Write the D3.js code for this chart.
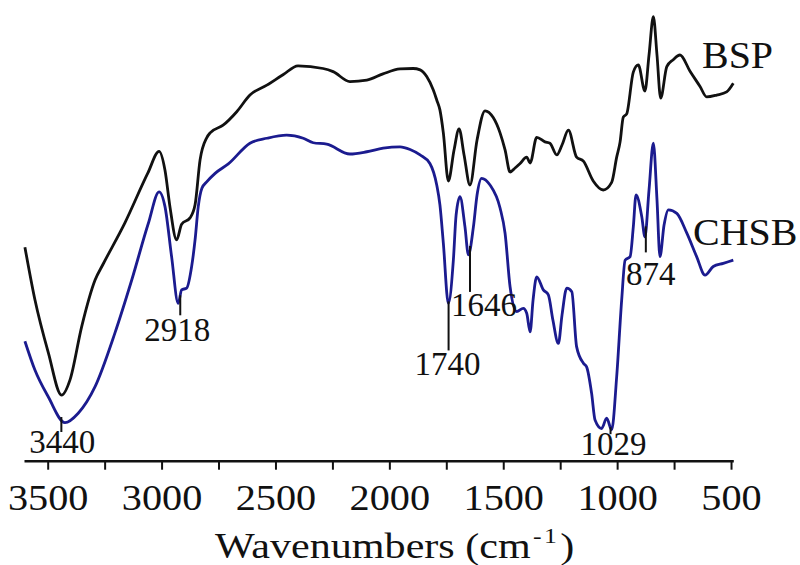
<!DOCTYPE html>
<html>
<head>
<meta charset="utf-8">
<script src="https://cdn.jsdelivr.net/npm/d3@7"></script>
<style>
  body { margin: 0; background: #fff; }
  svg { display: block; }
  text { font-family: 'Liberation Serif', 'Times New Roman', 'DejaVu Serif', serif; }
</style>
</head>
<body>
<svg id="chart" width="800" height="565"></svg>
<script>
// FTIR spectra, values (transmittance in arbitrary units)
const bspWave = [3600, 3556, 3497, 3439, 3402, 3351, 3292, 3257, 3161, 3060, 3011, 2985, 2963, 2934, 2912,
  2875, 2853, 2831, 2802, 2787, 2730, 2670, 2612, 2538, 2467, 2401, 2291, 2247, 2173, 2099, 2028, 1953,
  1896, 1865, 1836, 1807, 1792, 1778, 1763, 1741, 1716, 1694, 1672, 1646, 1615, 1580, 1544, 1514, 1492,
  1470, 1448, 1426, 1397, 1382, 1353, 1317, 1295, 1265, 1242, 1214, 1178, 1148, 1105, 1061, 1024, 1002,
  987, 973, 958, 929, 907, 878, 860, 841, 825, 809, 782, 755, 724, 680, 636, 607, 563, 519, 490];
const bspT = [47.3, 35.6, 23.8, 14.4, 17.8, 29.6, 40.0, 43.5, 52.7, 63.8, 68.6, 64.4, 56.2, 48.9, 52.4,
  53.8, 56.7, 66.7, 71.6, 72.7, 74.4, 77.4, 81.1, 83.3, 85.6, 87.6, 87.0, 86.3, 84.1, 84.4, 85.8, 86.9,
  87.0, 86.7, 85.2, 82.2, 80.0, 77.8, 72.7, 62.0, 68.9, 73.6, 67.8, 61.1, 71.1, 77.6, 76.1, 72.7, 68.9,
  64.0, 64.9, 65.9, 67.3, 66.0, 71.7, 70.7, 70.4, 67.8, 70.0, 73.3, 67.3, 66.4, 62.0, 60.0, 61.7, 67.3,
  70.7, 76.2, 76.9, 86.2, 87.8, 82.0, 90.0, 98.5, 90.0, 80.4, 87.4, 88.9, 90.0, 86.4, 83.0, 80.7, 81.1, 81.8, 83.7];

const chsbWave = [3600, 3556, 3497, 3424, 3366, 3292, 3205, 3131, 3058, 3011, 2985, 2956, 2927, 2912, 2890,
  2868, 2853, 2839, 2823, 2802, 2765, 2707, 2612, 2538, 2451, 2378, 2334, 2275, 2173, 2099, 2027, 1953,
  1909, 1865, 1822, 1792, 1778, 1763, 1741, 1719, 1707, 1690, 1668, 1653, 1631, 1615, 1595, 1558, 1514,
  1492, 1470, 1441, 1412, 1397, 1382, 1369, 1353, 1324, 1302, 1282, 1258, 1242, 1221, 1199, 1178, 1148,
  1134, 1112, 1097, 1068, 1046, 1024, 1002, 980, 965, 943, 929, 917, 892, 878, 860, 841, 825, 812, 794,
  775, 738, 694, 651, 614, 578, 534, 490];
const chsbT = [26.4, 20.0, 14.0, 8.3, 10.4, 16.3, 28.2, 40.0, 52.6, 59.6, 56.3, 45.2, 34.8, 37.8, 38.2,
  43.0, 48.9, 56.3, 60.4, 61.8, 63.7, 65.8, 70.4, 71.5, 72.2, 71.5, 70.5, 70.2, 68.0, 68.5, 69.3, 69.6,
  69.0, 67.8, 65.9, 61.1, 56.7, 48.2, 34.8, 44.4, 54.4, 58.5, 51.8, 45.6, 51.8, 58.9, 62.6, 61.1, 56.0,
  50.4, 38.5, 33.0, 33.7, 32.6, 28.5, 35.6, 40.7, 37.8, 36.7, 31.1, 25.9, 32.2, 38.2, 37.4, 25.2, 21.5,
  20.7, 14.8, 8.9, 7.0, 9.3, 6.7, 18.5, 35.6, 44.4, 45.2, 51.8, 58.9, 54.1, 49.6, 60.0, 70.4, 57.8, 45.2, 52.2,
  55.6, 54.8, 50.4, 45.2, 41.1, 43.0, 43.7, 44.4];

const seriesNames = ['BSP', 'CHSB'];
const majorTicks = [3500, 3000, 2500, 2000, 1500, 1000, 500];
const minorTicks = [3250, 2750, 2250, 1750, 1250, 750];
const peakLabels = [3440, 2918, 1740, 1646, 1029, 874];

// layout for the peak markers: marker length, label shift from the marker
const peakLayout = [
  { len: 15, dx: 1, dy: 21 },
  { len: 20, dx: -3, dy: 26 },
  { len: 49, dx: -1, dy: 25 },
  { len: 46, dx: 14, dy: 24 },
  { len: 7, dx: 3, dy: 21 },
  { len: 26, dx: 5, dy: 33 }
];

const FONT = "'Liberation Serif', 'Times New Roman', 'DejaVu Serif', serif";

const svg = d3.select('#chart');
const x = d3.scaleLinear().domain([3604, 490]).range([24, 733.3]);
const y = d3.scaleLinear().domain([0, 100]).range([460, 10]);
const axisY = 460.7;

const line = d3.line()
  .x(d => x(d[0]))
  .y(d => y(d[1]))
  .curve(d3.curveMonotoneX);

const series = [
  { name: seriesNames[0], pts: d3.zip(bspWave, bspT), color: '#111', label: { x: 702, y: 68 } },
  { name: seriesNames[1], pts: d3.zip(chsbWave, chsbT), color: '#1b1b8f', label: { x: 693, y: 245 } }
];

svg.selectAll('path.spectrum')
  .data(series)
  .enter()
  .append('path')
  .attr('class', 'spectrum')
  .attr('d', d => line(d.pts))
  .attr('fill', 'none')
  .attr('stroke', d => d.color)
  .attr('stroke-width', 2.8)
  .attr('stroke-linejoin', 'round');

svg.selectAll('text.series-name')
  .data(series)
  .enter()
  .append('text')
  .attr('class', 'series-name')
  .attr('transform', d => `translate(${d.label.x},${d.label.y}) scale(1.08,1)`)
  .attr('font-family', FONT)
  .attr('font-size', 37)
  .attr('fill', '#111')
  .text(d => d.name);

// x axis
const xAxis = d3.axisBottom(x)
  .tickValues(majorTicks.concat(minorTicks))
  .tickSize(9)
  .tickSizeOuter(0)
  .tickPadding(15)
  .tickFormat(d => (majorTicks.includes(d) ? d : ''));

const gx = svg.append('g')
  .attr('transform', `translate(0,${axisY})`)
  .call(xAxis)
  .attr('font-family', FONT)
  .attr('font-size', 35);
gx.select('.domain').attr('stroke', '#111').attr('stroke-width', 2.5);
gx.selectAll('.tick line').attr('stroke', '#111').attr('stroke-width', 2);
gx.selectAll('.tick text')
  .attr('fill', '#111')
  .attr('font-family', FONT)
  .attr('transform', 'scale(1.15,1)');

const title = svg.append('text')
  .attr('transform', 'translate(215,558) scale(1.17,1)')
  .attr('font-family', FONT)
  .attr('font-size', 36)
  .attr('fill', '#111');
title.append('tspan').text('Wavenumbers (cm');
title.append('tspan').attr('font-size', 22).attr('dy', -15).attr('dx', 2).attr('letter-spacing', 2).text('-1');
title.append('tspan').attr('dy', 15).attr('dx', 1).text(')');

// value of CHSB spectrum at a given wavenumber
function chsbAt(w) {
  for (let i = 0; i < chsbWave.length - 1; i++) {
    if (w <= chsbWave[i] && w >= chsbWave[i + 1]) {
      const t = (chsbWave[i] - w) / (chsbWave[i] - chsbWave[i + 1]);
      return chsbT[i] + t * (chsbT[i + 1] - chsbT[i]);
    }
  }
  return chsbT[chsbT.length - 1];
}

const peaks = svg.selectAll('g.peak')
  .data(peakLabels.map((w, i) => ({ w, lay: peakLayout[i] })))
  .enter()
  .append('g')
  .attr('class', 'peak');

peaks.append('line')
  .attr('x1', d => x(d.w))
  .attr('x2', d => x(d.w))
  .attr('y1', d => y(chsbAt(d.w)))
  .attr('y2', d => y(chsbAt(d.w)) + d.lay.len)
  .attr('stroke', '#111')
  .attr('stroke-width', 2);

peaks.append('text')
  .attr('x', d => x(d.w) + d.lay.dx)
  .attr('y', d => y(chsbAt(d.w)) + d.lay.len + d.lay.dy)
  .attr('text-anchor', 'middle')
  .attr('font-family', FONT)
  .attr('font-size', 33)
  .attr('fill', '#111')
  .text(d => d.w);
</script>
</body>
</html>
